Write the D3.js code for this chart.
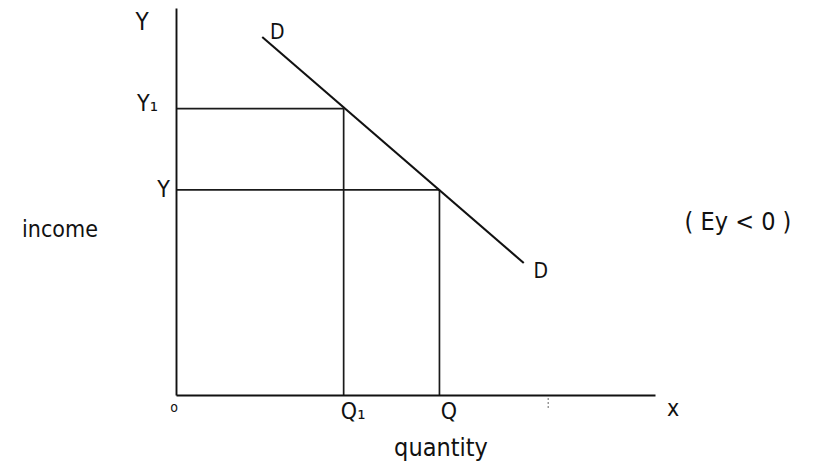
<!DOCTYPE html>
<html>
<head>
<meta charset="utf-8">
<script src="https://cdn.jsdelivr.net/npm/d3@7"></script>
<style>
  body { margin: 0; background: #fff; }
  text { font-family: "DejaVu Sans Condensed", "DejaVu Sans", sans-serif; fill: #111; }
</style>
</head>
<body>
<div id="chart"></div>
<script>
// quantities on the x axis and the income levels on the y axis
var qValues = [35, 55];
var qLabels = ["Q\u2081", "Q"];
var yValues = [74, 53];
var yLabels = ["Y\u2081", "Y"];
// the demand line D (two ends)
var demand = [{q: 18, y: 92.5}, {q: 72.6, y: 34.1}];
// points where the income levels meet the line
var points = [{q: 35, y: 74}, {q: 55, y: 53}];
// a stray mark on the x axis
var strayTick = [77.7];

var width = 816, height = 466;
var font = "DejaVu Sans Condensed, DejaVu Sans, sans-serif";

var svg = d3.select("#chart")
  .append("svg")
  .attr("width", width)
  .attr("height", height);

var x = d3.scaleLinear()
    .domain([0, 100])
    .range([176, 655]);

var y = d3.scaleLinear()
    .domain([0, 100])
    .range([395, 8]);

// guide lines first so the axes sit on top
svg.selectAll(".hguide")
  .data(points)
  .enter().append("line")
  .attr("class", "hguide")
  .attr("x1", x(0))
  .attr("x2", function(d) { return x(d.q); })
  .attr("y1", function(d) { return y(d.y); })
  .attr("y2", function(d) { return y(d.y); })
  .attr("stroke", "#1a1a1a")
  .attr("stroke-width", 1.7);

svg.selectAll(".vguide")
  .data(points)
  .enter().append("line")
  .attr("class", "vguide")
  .attr("x1", function(d) { return x(d.q); })
  .attr("x2", function(d) { return x(d.q); })
  .attr("y1", function(d) { return y(d.y); })
  .attr("y2", y(0))
  .attr("stroke", "#1a1a1a")
  .attr("stroke-width", 1.7);

var xAxis = d3.axisBottom(x)
    .tickValues(qValues)
    .tickFormat(function(d, i) { return qLabels[i]; })
    .tickSize(0)
    .tickPadding(7);

var gx = svg.append("g")
  .attr("transform", "translate(0," + y(0) + ")")
  .call(xAxis);

var yAxis = d3.axisLeft(y)
    .tickValues(yValues)
    .tickFormat(function(d, i) { return yLabels[i]; })
    .tickSize(0)
    .tickPadding(8);

var gy = svg.append("g")
  .attr("transform", "translate(" + x(0) + ",0)")
  .call(yAxis);

[gx, gy].forEach(function(g) {
  g.select(".domain").attr("stroke", "#111").attr("stroke-width", 1.9);
  g.selectAll(".tick text")
    .style("font-family", font)
    .style("font-size", "23px")
    .attr("fill", "#111");
});
gx.selectAll(".tick text").attr("dx", 9).attr("dy", "0.75em");
gy.selectAll(".tick text").attr("dx", function(d, i) { return i == 0 ? -10 : 2; })
  .attr("dy", function(d, i) { return i == 0 ? "0.1em" : "0.3em"; });

svg.selectAll(".stray")
  .data(strayTick)
  .enter().append("line")
  .attr("class", "stray")
  .attr("x1", function(d) { return x(d); })
  .attr("x2", function(d) { return x(d); })
  .attr("y1", y(0) + 3)
  .attr("y2", y(0) + 14)
  .attr("stroke", "#666")
  .attr("stroke-width", 1)
  .attr("stroke-dasharray", "2,2");

svg.append("path")
  .datum(demand)
  .attr("d", d3.line()
    .x(function(d) { return x(d.q); })
    .y(function(d) { return y(d.y); }))
  .attr("fill", "none")
  .attr("stroke", "#111")
  .attr("stroke-width", 2.1);

// text labels
svg.append("text").attr("x", x(0) - 34).attr("y", y(100) + 22)
  .attr("text-anchor", "middle").style("font-size", "24px").text("Y");
svg.append("text").attr("x", x(demand[0].q) + 15).attr("y", y(demand[0].y) + 2)
  .attr("text-anchor", "middle").style("font-size", "21px").text("D");
svg.append("text").attr("x", x(demand[1].q) + 17).attr("y", y(demand[1].y) + 15)
  .attr("text-anchor", "middle").style("font-size", "21px").text("D");
svg.append("text").attr("x", x(0) - 2).attr("y", y(0) + 17)
  .attr("text-anchor", "middle").style("font-size", "14px").text("o");
svg.append("text").attr("x", x(100) + 18).attr("y", y(0) + 21)
  .attr("text-anchor", "middle").style("font-size", "23px").text("x");
svg.append("text").attr("x", 60).attr("y", 237)
  .attr("text-anchor", "middle").style("font-size", "23px").text("income");
svg.append("text").attr("x", 441).attr("y", 456)
  .attr("text-anchor", "middle").style("font-size", "25px").text("quantity");
svg.append("text").attr("x", 738).attr("y", 230)
  .attr("text-anchor", "middle").style("font-size", "25px").text("( Ey < 0 )");
</script>
</body>
</html>
